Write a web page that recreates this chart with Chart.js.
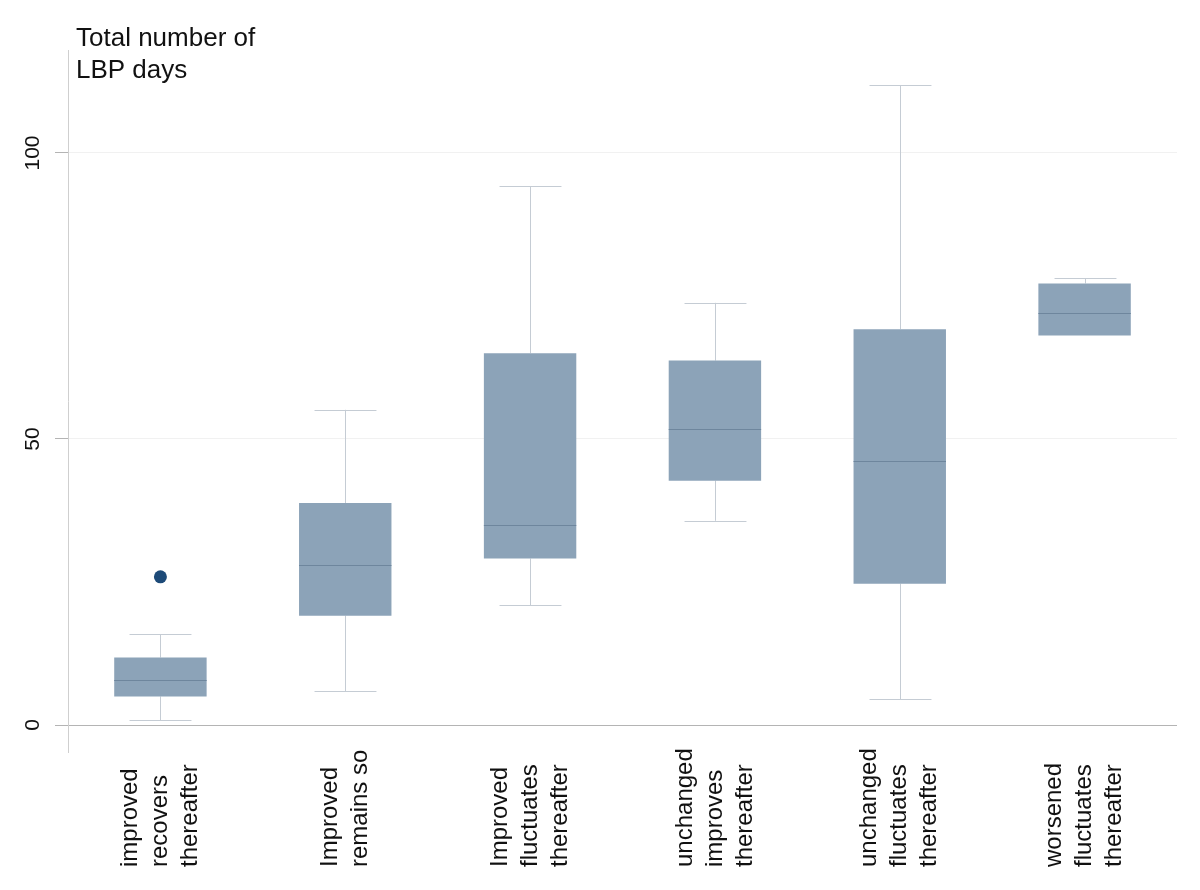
<!DOCTYPE html>
<html>
<head>
<meta charset="utf-8">
<script src="https://cdn.jsdelivr.net/npm/chart.js@4/dist/chart.umd.min.js"></script>
<style>
  html, body { margin: 0; padding: 0; background: #fff; }
  #wrap { width: 1200px; height: 890px; }
</style>
</head>
<body>
<div id="wrap"><canvas id="boxChart" width="1200" height="890"></canvas></div>
<script>
const categories = [
  ['improved', 'recovers', 'thereafter'],
  ['Improved', 'remains so'],
  ['Improved', 'fluctuates', 'thereafter'],
  ['unchanged', 'improves', 'thereafter'],
  ['unchanged', 'fluctuates', 'thereafter'],
  ['worsened', 'fluctuates', 'thereafter']
];
const lowWhisker = [0.8, 5.9, 20.9, 35.7, 4.5, 68.1];
const q1 = [5.0, 19.1, 29.1, 42.7, 24.7, 68.1];
const median = [7.8, 28.0, 34.9, 51.7, 46.2, 72.1];
const q3 = [11.8, 38.8, 65.0, 63.7, 69.2, 77.2];
const highWhisker = [15.9, 55.1, 94.2, 73.8, 111.8, 78.1];
const outliers = [25.9, null, null, null, null, null];
const yTicks = [0, 50, 100];
const titleLines = ['Total number of', 'LBP days'];

const FONT = '"Liberation Sans", Arial, Helvetica, sans-serif';

// whiskers behind the boxes, medians + texts on top
const boxExtras = {
  id: 'boxExtras',
  beforeDatasetsDraw(chart) {
    const { ctx, scales: { y } } = chart;
    const bars = chart.getDatasetMeta(0).data;
    ctx.save();
    ctx.strokeStyle = '#c5ccd4';
    ctx.lineWidth = 1;
    bars.forEach((bar, i) => {
      const x = Math.round(bar.x) + 0.5;
      const cap = bar.width * 0.335;
      const segs = [[highWhisker[i], q3[i]], [q1[i], lowWhisker[i]]];
      ctx.beginPath();
      segs.forEach(([a, b]) => {
        if (a === b) return;
        ctx.moveTo(x, y.getPixelForValue(a));
        ctx.lineTo(x, y.getPixelForValue(b));
      });
      [highWhisker[i], lowWhisker[i]].forEach(v => {
        if (v === q1[i] || v === q3[i]) return;
        const py = Math.round(y.getPixelForValue(v)) + 0.5;
        ctx.moveTo(x - cap, py);
        ctx.lineTo(x + cap, py);
      });
      ctx.stroke();
    });
    ctx.restore();
  },
  afterDatasetsDraw(chart) {
    const { ctx, scales: { x, y } } = chart;
    const bars = chart.getDatasetMeta(0).data;
    ctx.save();
    ctx.strokeStyle = '#6e869d';
    ctx.lineWidth = 1;
    ctx.beginPath();
    bars.forEach((bar, i) => {
      const py = Math.round(y.getPixelForValue(median[i])) + 0.5;
      ctx.moveTo(bar.x - bar.width / 2, py);
      ctx.lineTo(bar.x + bar.width / 2, py);
    });
    ctx.stroke();

    ctx.fillStyle = '#111';
    // y tick labels, rotated
    ctx.font = '21px ' + FONT;
    ctx.textAlign = 'center';
    ctx.textBaseline = 'middle';
    y.ticks.forEach(t => {
      ctx.save();
      ctx.translate(33, y.getPixelForValue(t.value));
      ctx.rotate(-Math.PI / 2);
      ctx.fillText(String(t.value), 0, 0);
      ctx.restore();
    });

    // category labels, rotated, one column per line
    ctx.font = '24px ' + FONT;
    ctx.textAlign = 'left';
    categories.forEach((lines, i) => {
      const cx = x.getPixelForValue(i);
      lines.forEach((line, j) => {
        ctx.save();
        ctx.translate(cx + (j - (lines.length - 1) / 2) * 30, 867);
        ctx.rotate(-Math.PI / 2);
        ctx.fillText(line, 0, 0);
        ctx.restore();
      });
    });

    // axis title in the top-left corner
    ctx.font = '26px ' + FONT;
    ctx.textBaseline = 'alphabetic';
    titleLines.forEach((line, j) => ctx.fillText(line, 76, 46 + j * 32));
    ctx.restore();
  }
};

new Chart(document.getElementById('boxChart'), {
  type: 'bar',
  data: {
    labels: categories.map(c => c.join(' ')),
    datasets: [{
      label: 'IQR',
      data: q1.map((v, i) => [v, q3[i]]),
      backgroundColor: '#8ca3b8',
      borderWidth: 0,
      categoryPercentage: 0.5,
      barPercentage: 1,
      order: 2
    }, {
      type: 'line',
      label: 'Outside values',
      data: outliers,
      showLine: false,
      pointRadius: 6.5,
      pointBackgroundColor: '#1d4a78',
      pointBorderWidth: 0,
      order: 1
    }]
  },
  options: {
    responsive: false,
    animation: false,
    layout: { padding: { top: 50, right: 23, left: 0, bottom: 0 } },
    plugins: { legend: { display: false }, tooltip: { enabled: false } },
    scales: {
      x: {
        grid: { display: false },
        border: { display: false },
        ticks: { display: false },
        afterFit(scale) { scale.height = 138; }
      },
      y: {
        min: -4.72,
        max: 118,
        afterBuildTicks(scale) { scale.ticks = yTicks.map(v => ({ value: v })); },
        ticks: { display: false },
        grid: {
          color: ctx => (ctx.tick && ctx.tick.value === 0 ? '#b4b4b4' : '#f1f1f1'),
          tickColor: '#b4b4b4',
          tickLength: 13,
          lineWidth: 1
        },
        border: { color: '#cfcfcf', width: 1 },
        afterFit(scale) { scale.width = 68; }
      }
    }
  },
  plugins: [boxExtras]
});
</script>
</body>
</html>
